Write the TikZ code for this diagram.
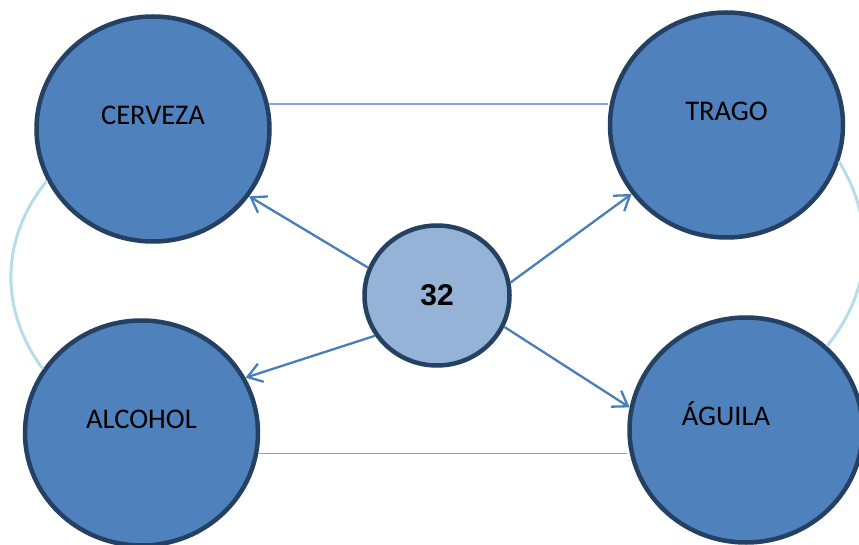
\documentclass[tikz,border=0pt]{standalone}
\usepackage{fontspec}
\setmainfont{Carlito}
\newfontfamily\numfont{Liberation Sans}
\usetikzlibrary{shapes.geometric,arrows.meta}

\definecolor{bubblefill}{RGB}{79,129,189}
\definecolor{bubbleedge}{RGB}{36,64,98}
\definecolor{hubfill}{RGB}{149,179,215}
\definecolor{spoke}{RGB}{74,126,187}
\definecolor{rim}{RGB}{126,166,224}
\definecolor{loopline}{RGB}{183,221,232}

\begin{document}
\begin{tikzpicture}[x=1pt, y=1pt,
  bubble/.style={ellipse, draw=bubbleedge, fill=bubblefill, line width=4.5pt,
    minimum width=233pt, minimum height=225pt, inner sep=0pt},
  word/.style={font=\fontsize{28.5}{32}\selectfont, text height=18.5pt,
    text depth=0pt, inner sep=0pt, yshift=14pt},
  hub/.style={ellipse, draw=bubbleedge, fill=hubfill, line width=4.5pt,
    minimum width=145pt, minimum height=140pt, inner sep=0pt,
    font=\numfont\bfseries\fontsize{30}{34}\selectfont},
  spokeline/.style={draw=spoke, line width=2.3pt,
    -{Straight Barb[length=14pt, width=19pt]}},
  rimline/.style={draw=rim, line width=1.8pt},
  loopline/.style={draw=loopline, line width=3pt}]

\useasboundingbox (0,0) rectangle (859,544);

% Outer circles
\node[bubble, label={[word]center:CERVEZA}] (cerveza) at (153,415) {};
\node[bubble, label={[word]center:TRAGO}] (trago) at (726.5,419) {};
\node[bubble, label={[word]center:ALCOHOL}] (alcohol) at (141.5,111) {};
\node[bubble, label={[word, xshift=-20pt]center:ÁGUILA}] (aguila) at (746,114) {};

% Middle circle
\node[hub] (c) at (437,248.5) {32};

% Arrows out of the middle
\foreach \a/\n/\b in {158/cerveza/-35, 10/trago/216, 213/alcohol/28, 335/aguila/169} {
  \draw[spokeline] (c.\a) -- (\n.\b);
}

% Horizontal links
\draw[rimline] (cerveza.12) -- (cerveza.12 -| trago.west);
\draw[rimline] (alcohol.-10) -- (alcohol.-10 -| aguila.west);

% Side arcs
\draw[loopline] (cerveza.206) to[bend right=38] (alcohol.147);
\draw[loopline] (trago.-18) to[bend left=35] (aguila.46);

\end{tikzpicture}
\end{document}
